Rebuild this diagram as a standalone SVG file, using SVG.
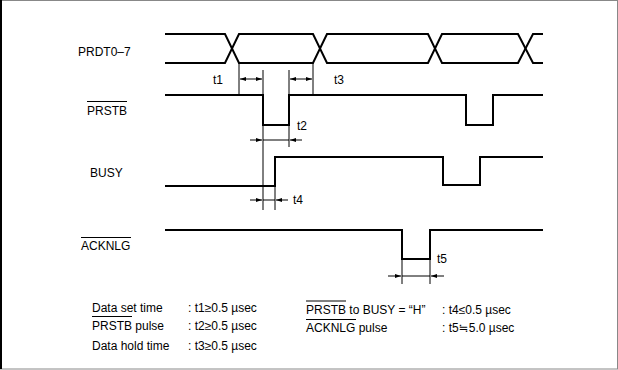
<svg xmlns="http://www.w3.org/2000/svg" width="618" height="370" viewBox="0 0 618 370">
<style>
.sig{fill:none;stroke:#000;stroke-width:2;stroke-linejoin:miter}
.thin{fill:none;stroke:#000;stroke-width:1}
.ov{stroke:#000;stroke-width:1}
text{font-family:"Liberation Sans",Arial,"DejaVu Sans",sans-serif;font-size:12px;fill:#000}
</style>
<defs>
<marker id="ah" viewBox="0 0 6 4" refX="6" refY="2" markerWidth="6" markerHeight="4" markerUnits="userSpaceOnUse" orient="auto">
<path d="M0,0 L6,2 L0,4 Z" fill="#000"/>
</marker>
</defs>
<rect x="0.5" y="0.5" width="617" height="368.5" fill="#fff" stroke="#888" stroke-width="1"/>
<line x1="1" y1="0" x2="1" y2="369" stroke="#000" stroke-width="2"/>

<g id="prdt">
<text x="78" y="56">PRDT0–7</text>
<path class="sig" d="M165,34 H225 L239,63 H313 L327,34 H428 L442,63 H518 L533,34 H543"/>
<path class="sig" d="M165,63 H225 L239,34 H313 L327,63 H428 L442,34 H518 L533,63 H543"/>
</g>

<g id="prstb">
<text x="87" y="115">PRSTB</text>
<line class="ov" x1="87" y1="101.5" x2="127" y2="101.5"/>
<path class="sig" d="M165,95 H263 V125 H289 V95 H466 V125 H493 V95 H543"/>
</g>

<g id="busy">
<text x="90" y="177">BUSY</text>
<path class="sig" d="M165,186 H275 V157 H443 V185 H480 V157 H543"/>
</g>

<g id="acknlg">
<text x="81" y="250">ACKNLG</text>
<line class="ov" x1="81" y1="237.5" x2="131" y2="237.5"/>
<path class="sig" d="M165,230 H402 V259 H430 V230 H543"/>
</g>

<g id="connectors">
<line class="thin" x1="239" y1="63" x2="239" y2="95"/>
<line class="thin" x1="313" y1="63" x2="313" y2="95"/>
<line class="thin" x1="263" y1="70" x2="263" y2="210"/>
<line class="thin" x1="289" y1="70" x2="289" y2="147"/>
<line class="thin" x1="275" y1="186" x2="275" y2="210"/>
<line class="thin" x1="402" y1="259" x2="402" y2="284"/>
<line class="thin" x1="430" y1="259" x2="430" y2="284"/>
<!-- t1 -->
<line class="thin" x1="250" y1="79" x2="240" y2="79" marker-end="url(#ah)"/>
<line class="thin" x1="250" y1="79" x2="262" y2="79" marker-end="url(#ah)"/>
<!-- t3 -->
<line class="thin" x1="301" y1="79" x2="290" y2="79" marker-end="url(#ah)"/>
<line class="thin" x1="301" y1="79" x2="312" y2="79" marker-end="url(#ah)"/>
<!-- t2 -->
<line class="thin" x1="250" y1="140" x2="262" y2="140" marker-end="url(#ah)"/>
<line class="thin" x1="263" y1="140" x2="289" y2="140"/>
<line class="thin" x1="302" y1="140" x2="290" y2="140" marker-end="url(#ah)"/>
<!-- t4 -->
<line class="thin" x1="250" y1="200" x2="262" y2="200" marker-end="url(#ah)"/>
<line class="thin" x1="263" y1="200" x2="275" y2="200"/>
<line class="thin" x1="288" y1="200" x2="276" y2="200" marker-end="url(#ah)"/>
<!-- t5 -->
<line class="thin" x1="388" y1="276" x2="401" y2="276" marker-end="url(#ah)"/>
<line class="thin" x1="402" y1="276" x2="430" y2="276"/>
<line class="thin" x1="444" y1="276" x2="431" y2="276" marker-end="url(#ah)"/>
</g>

<g id="labels">
<text x="213" y="84">t1</text>
<text x="334" y="84">t3</text>
<text x="297" y="130">t2</text>
<text x="293" y="204">t4</text>
<text x="437" y="263">t5</text>
</g>

<g id="legend">
<text x="92" y="312">Data set time</text>
<text x="188" y="312">: t1≥0.5 µsec</text>
<text x="92" y="330">PRSTB pulse</text>
<line class="ov" x1="92" y1="316.5" x2="132" y2="316.5"/>
<text x="188" y="330">: t2≥0.5 µsec</text>
<text x="92" y="350">Data hold time</text>
<text x="188" y="350">: t3≥0.5 µsec</text>
<text x="306" y="314">PRSTB to BUSY = “H”</text>
<line class="ov" x1="306" y1="301" x2="346" y2="301"/>
<text x="442" y="314">: t4≤0.5 µsec</text>
<text x="306" y="332">ACKNLG pulse</text>
<line class="ov" x1="306" y1="319.5" x2="356" y2="319.5"/>
<text x="442" y="332">: t5≒5.0 µsec</text>
</g>
</svg>
